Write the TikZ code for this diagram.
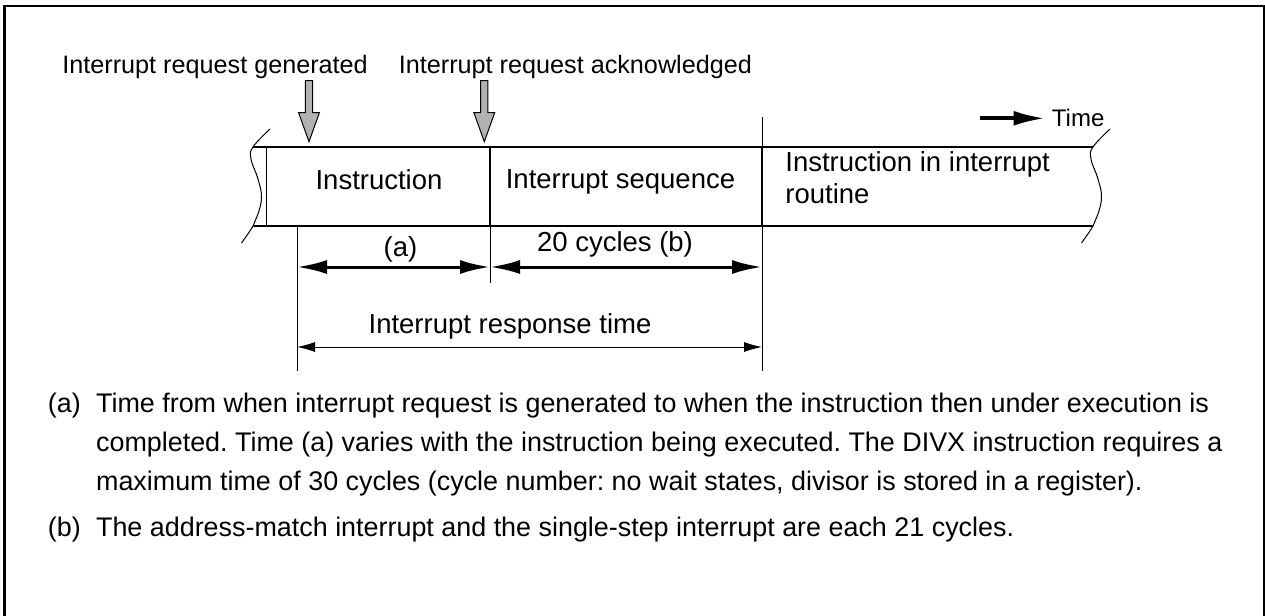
\documentclass[tikz,border=0pt]{standalone}
\usepackage{fontspec}
\setmainfont{Liberation Sans}
\frenchspacing
\usetikzlibrary{arrows.meta, positioning, calc}

\tikzset{
  % grey block arrow, tip at the origin
  reqarrow/.pic={
    \draw[fill=black!30, line width=0.5pt] (-3.6,-61) -- (3.6,-61) -- (3.6,-29)
      -- (10.4,-29) -- (0,0) -- (-10.4,-29) -- (-3.6,-29) -- cycle;
  },
  % wavy break of the time band
  bandbreak/.pic={
    \draw[line width=0.5pt] plot[smooth, tension=0.7] coordinates
      {(17,-18) (0,0) (-2,12) (5,32) (8.5,50) (5,67) (0,79) (-11.5,96)};
  }
}

\begin{document}
\begin{tikzpicture}[x=0.5pt, y=-0.5pt, >=Latex,
  lbl/.style={font=\fontsize{13.75}{16}\selectfont, inner sep=0pt},
  toplbl/.style={font=\fontsize{12.6}{15}\selectfont, inner sep=0pt, anchor=base west},
  notetxt/.style={font=\fontsize{13.45}{16}\selectfont, inner sep=0pt, anchor=base west},
  bandline/.style={line width=1pt},
  guide/.style={line width=0.5pt},
  dimbold/.style={line width=1.5pt, {Latex[length=15pt,width=7pt]}-{Latex[length=15pt,width=7pt]}},
  dimthin/.style={line width=0.5pt, {Latex[length=9pt,width=5pt]}-{Latex[length=9pt,width=5pt]}}]
  \useasboundingbox (0,0) rectangle (1265,616);
  % frame
  \draw[line width=1.2pt] (4.7,625) -- (4.7,5.7) -- (1263.8,5.7) -- (1263.8,625);

  % top labels
  \node[toplbl] (gen) at (62,73) {Interrupt request generated};
  \node[toplbl] (ack) at (398.5,73) {Interrupt request acknowledged};
  \pic at (309,141.7) {reqarrow};
  \pic at (484.3,141.7) {reqarrow};

  % time band
  \draw[bandline] (253,147) -- (1093,147);
  \draw[bandline] (253,226) -- (1093,226);
  \draw[guide] (266,147) -- (266,226);
  \pic at (253,147) {bandbreak};
  \pic at (1093,147) {bandbreak};
  \draw[bandline] (490,147) -- (490,226);
  \draw[guide] (490,226) -- (490,283);
  \draw[guide] (762,117) -- (762,147);
  \draw[bandline] (762,147) -- (762,226);
  \draw[guide] (762,226) -- (762,371);
  \draw[guide] (297,226) -- (297,371);

  \node[lbl, anchor=base] (instr) at (379,189) {Instruction};
  \node[lbl, anchor=base] (seq) at (620.5,188.5) {Interrupt sequence};
  \node[lbl, anchor=base west] (rout1) at (785,171.5) {Instruction in interrupt};
  \node[lbl, anchor=base west] (rout2) at ([yshift=-15.8pt]rout1.base west) {routine};

  % time direction
  \node[font=\fontsize{12}{14}\selectfont, inner sep=0pt, anchor=west] (timelbl) at (1051.5,118.3) {Time};
  \coordinate (tm0) at (980,118.3);
  \draw[line width=2pt, -{Latex[length=16pt,width=7.5pt]}, shorten >=3pt] (tm0) -- (timelbl.west);

  % durations
  \coordinate (a0) at (297,267);
  \coordinate (a1) at (490,267);
  \coordinate (b1) at (762,267);
  \coordinate (r0) at (297,347);
  \coordinate (r1) at (762,347);
  \draw[dimbold] (a0) -- (a1);
  \draw[dimbold] (a1) -- (b1);
  \draw[dimthin] (r0) -- (r1);
  \node[lbl, anchor=base] (cyca) at (400.5,256) {(a)};
  \node[lbl, anchor=base] (cycb) at (615,251.5) {20 cycles (b)};
  \node[lbl, anchor=base] (resp) at (510,333.3) {Interrupt response time};

  % notes
  \node[notetxt] (notea) at (47.5,412) {(a)};
  \node[notetxt] (notea1) at (95.7,412) {Time from when interrupt request is generated to when the instruction then under execution is};
  \node[notetxt] (notea2) at ([yshift=-19.7pt]notea1.base west) {completed. Time (a) varies with the instruction being executed. The DIVX instruction requires a};
  \node[notetxt] (notea3) at ([yshift=-19.7pt]notea2.base west) {maximum time of 30 cycles (cycle number: no wait states, divisor is stored in a register).};
  \node[notetxt] (noteb) at (47.5,536) {(b)};
  \node[notetxt] (noteb1) at (95.7,536) {The address-match interrupt and the single-step interrupt are each 21 cycles.};
\end{tikzpicture}
\end{document}
